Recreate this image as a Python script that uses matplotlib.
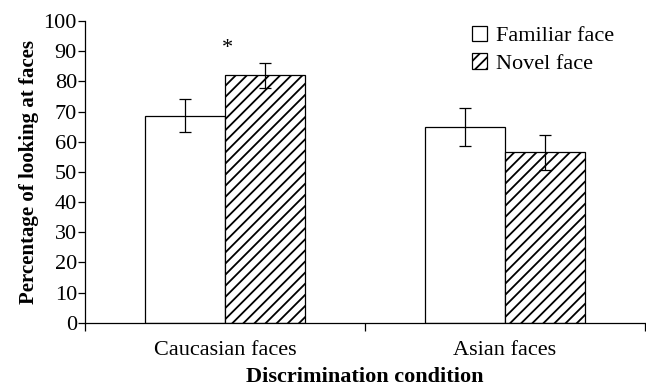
import numpy as np
import matplotlib.pyplot as plt

plt.rcParams['font.family'] = ['Liberation Serif', 'DejaVu Serif']
plt.rcParams['hatch.linewidth'] = 1.3

conditions = ['Caucasian faces', 'Asian faces']
familiar = [68.6, 64.8]
familiar_err = [5.4, 6.3]
novel = [82.0, 56.5]
novel_err = [4.2, 5.8]

fig = plt.figure(figsize=(6.46, 3.88), dpi=100)
ax = fig.add_axes([0.132, 0.168, 0.866, 0.778])

x = np.arange(len(conditions))
w = 0.286

ax.bar(x - w / 2, familiar, w, color='white', edgecolor='black', linewidth=0.9,
       label='Familiar face')
ax.bar(x + w / 2, novel, w, color='white', edgecolor='black', linewidth=0.9,
       hatch='///', label='Novel face')
ax.errorbar(x - w / 2, familiar, yerr=familiar_err, fmt='none', ecolor='black',
            elinewidth=0.9, capsize=4, capthick=0.9)
ax.errorbar(x + w / 2, novel, yerr=novel_err, fmt='none', ecolor='black',
            elinewidth=0.9, capsize=4, capthick=0.9)

# significance marker over the Caucasian pair
ax.text(0.01, 91, '*', ha='center', va='center', fontsize=16)

ax.set_xlim(-0.5, 1.5)
ax.set_ylim(0, 100)
ax.set_yticks(range(0, 101, 10))
ax.tick_params(axis='y', labelsize=16, length=5, width=0.9, pad=1)

# category ticks sit at the group boundaries, labels at the centres
ax.set_xticks([-0.5, 0.5, 1.5])
ax.set_xticklabels([])
ax.set_xticks(x, minor=True)
ax.set_xticklabels(conditions, minor=True, fontsize=16)
ax.tick_params(axis='x', which='major', length=6, width=0.9)
ax.tick_params(axis='x', which='minor', length=0, pad=13)

for s in ['top', 'right']:
    ax.spines[s].set_visible(False)
ax.spines['left'].set_linewidth(0.9)
ax.spines['bottom'].set_linewidth(0.9)

ax.set_ylabel('Percentage of looking at faces', fontsize=15, fontweight='bold',
              labelpad=3)
ax.set_xlabel('Discrimination condition', fontsize=16, fontweight='bold',
              labelpad=5)

ax.legend(loc='upper left', bbox_to_anchor=(0.655, 1.05), frameon=False,
          fontsize=16, handlelength=0.7, handleheight=0.7, handletextpad=0.4,
          labelspacing=0.3)

fig.savefig('out.png', dpi=100)
